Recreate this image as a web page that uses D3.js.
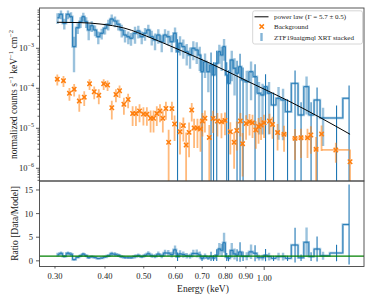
<!DOCTYPE html>
<html>
<head>
<meta charset="utf-8">
<script src="https://cdn.jsdelivr.net/npm/d3@7"></script>
<style>
  body { margin: 0; background: #fff; }
  svg { display: block; }
  text { font-family: "Liberation Serif", "Times New Roman", serif; fill: #222; }
</style>
</head>
<body>
<svg id="chart" width="374" height="299"></svg>
<script>
// stacked XRT spectrum (bin centre keV, counts s^-1 keV^-1 cm^-2, 1 sigma)
const specE = [0.3044, 0.3105, 0.3165, 0.3233, 0.3290, 0.3347, 0.3419, 0.3475, 0.3531, 0.3590,
  0.3642, 0.3706, 0.3777, 0.3849, 0.3925, 0.4001, 0.4077, 0.4158, 0.4238, 0.4319,
  0.4404, 0.4489, 0.4575, 0.4646, 0.4755, 0.4846, 0.4942, 0.5036, 0.5133, 0.5235,
  0.5335, 0.5437, 0.5545, 0.5651, 0.5759, 0.5873, 0.5986, 0.6073, 0.6161, 0.6279,
  0.6403, 0.6526, 0.6651, 0.6782, 0.6901, 0.6992, 0.7114, 0.7251, 0.7364, 0.7471,
  0.7610, 0.7725, 0.7832, 0.7937, 0.8061, 0.8145, 0.8297, 0.8431, 0.8553, 0.8702,
  0.8854, 0.9044, 0.9271, 0.9487, 0.9708, 0.9905, 1.0078, 1.0283, 1.0553, 1.0860,
  1.1146, 1.1438, 1.1943, 1.2363, 1.2761, 1.3096, 1.3556, 1.4032, 1.5165, 1.6298];
const specRate = [5.82e-3, 7.08e-3, 4.22e-3, 7.08e-3, 6.17e-3, 1.10e-3, 3.27e-3, 4.62e-3, 6.17e-3, 4.62e-3,
  2.87e-3, 3.67e-3, 2.87e-3, 1.95e-3, 2.37e-3, 3.16e-3, 3.98e-3, 5.40e-3, 4.81e-3, 3.98e-3,
  2.87e-3, 2.15e-3, 1.95e-3, 1.78e-3, 2.37e-3, 2.71e-3, 1.95e-3, 2.37e-3, 2.87e-3, 1.95e-3,
  1.61e-3, 2.15e-3, 1.46e-3, 2.15e-3, 1.95e-3, 1.46e-3, 2.37e-3, 8.22e-4, 1.33e-3, 1.10e-3,
  8.22e-4, 6.80e-4, 1.00e-3, 9.07e-4, 6.80e-4, 2.60e-4, 4.62e-4, 2.60e-4, 3.82e-4, 2.15e-4,
  4.22e-4, 8.22e-4, 6.80e-4, 1.10e-3, 2.15e-4, 1.33e-4, 5.10e-4, 3.16e-4, 2.37e-4, 3.47e-4,
  1.61e-4, 1.46e-4, 2.60e-4, 1.95e-4, 7.50e-5, 6.80e-5, 1.10e-4, 7.50e-5, 3.82e-5, 5.62e-5,
  5.10e-5, 2.60e-5, 1.33e-4, 2.15e-5, 1.10e-4, 2.15e-5, 5.10e-5, 1.81e-5, 1.81e-5, 5.62e-5];
const specErr = [1.75e-3, 1.77e-3, 1.27e-3, 1.77e-3, 1.85e-3, 8.5e-4, 9.8e-4, 1.39e-3, 1.54e-3, 1.39e-3,
  1.29e-3, 1.10e-3, 8.6e-4, 6.8e-4, 7.1e-4, 9.5e-4, 1.19e-3, 1.62e-3, 1.44e-3, 1.19e-3,
  1.0e-3, 7.5e-4, 6.8e-4, 6.2e-4, 1.07e-3, 9.5e-4, 6.8e-4, 8.3e-4, 1.0e-3, 7.8e-4,
  7.2e-4, 8.6e-4, 6.6e-4, 8.6e-4, 7.8e-4, 6.6e-4, 9.5e-4, 8.6e-4, 6.7e-4, 5.5e-4,
  4.5e-4, 3.7e-4, 5.0e-4, 5.0e-4, 4.1e-4, 2.9e-4, 2.8e-4, 1.8e-4, 4.0e-4, 2.3e-4,
  4.4e-4, 4.1e-4, 4.1e-4, 6.1e-4, 2.3e-4, 1.5e-4, 3.6e-4, 2.5e-4, 2.5e-4, 3.8e-4,
  1.7e-4, 1.3e-4, 2.1e-4, 2.05e-4, 6.8e-5, 6.1e-5, 1.16e-4, 6.8e-5, 4.0e-5, 5.1e-5,
  4.6e-5, 2.7e-5, 1.46e-4, 2.3e-5, 8.8e-5, 2.3e-5, 5.4e-5, 1.45e-5, 1.9e-5, 6.2e-5];

// background spectrum
const bgE = [0.304, 0.315, 0.326, 0.335, 0.345, 0.355, 0.366, 0.376, 0.386, 0.397,
  0.406, 0.416, 0.426, 0.435, 0.446, 0.457, 0.469, 0.478, 0.488, 0.499,
  0.509, 0.520, 0.529, 0.539, 0.549, 0.558, 0.568, 0.577, 0.588, 0.597,
  0.616, 0.628, 0.638, 0.649, 0.659, 0.668, 0.681, 0.693, 0.701, 0.711,
  0.729, 0.745, 0.764, 0.782, 0.798, 0.823, 0.841, 0.854, 0.872, 0.883,
  0.901, 0.919, 0.935, 0.953, 0.968, 0.982, 0.999, 1.031, 1.049, 1.080,
  1.121, 1.194, 1.236, 1.283, 1.308, 1.348, 1.391, 1.510, 1.639];
const bgRate = [1.69e-4, 1.55e-4, 7.5e-5, 9.5e-5, 4.8e-5, 6.0e-5, 1.30e-4, 8.2e-5, 6.7e-5, 1.30e-4,
  1.21e-4, 3.27e-5, 7.0e-5, 8.7e-5, 3.98e-5, 5.25e-5, 2.34e-5, 2.34e-5, 2.71e-5, 2.28e-5,
  2.25e-5, 1.78e-5, 1.78e-5, 2.34e-5, 2.71e-5, 1.78e-5, 3.13e-5, 4.47e-6, 3.1e-5, 1.28e-5,
  8.2e-6, 1.17e-5, 3.82e-6, 7.9e-6, 2.87e-5, 1.02e-5, 1.02e-5, 9.6e-6, 1.52e-5, 1.78e-5,
  5.9e-6, 1.76e-5, 1.52e-5, 1.46e-5, 1.57e-5, 8.2e-6, 4.47e-6, 8.8e-6, 1.52e-5, 4.12e-6,
  1.32e-5, 1.46e-5, 1.37e-5, 9.1e-6, 1.11e-5, 1.21e-5, 1.37e-5, 1.52e-5, 1.25e-5, 7.8e-6,
  7.1e-6, 5.6e-6, 5.8e-6, 5.8e-6, 6.8e-6, 2.99e-6, 7.2e-6, 2.87e-6, 1.46e-6];
const bgErr = [5.1e-5, 4.7e-5, 2.6e-5, 3.3e-5, 2.2e-5, 2.4e-5, 3.9e-5, 2.9e-5, 2.7e-5, 3.9e-5,
  3.6e-5, 1.6e-5, 2.5e-5, 3.0e-5, 1.8e-5, 2.1e-5, 1.2e-5, 1.2e-5, 1.3e-5, 1.1e-5,
  1.1e-5, 1.0e-5, 1.0e-5, 1.2e-5, 1.3e-5, 1.0e-5, 1.5e-5, 4.7e-6, 1.5e-5, 8e-6,
  6e-6, 7e-6, 4e-6, 6e-6, 1.4e-5, 7e-6, 7e-6, 7e-6, 9e-6, 1e-5,
  6.2e-6, 1e-5, 9e-6, 9e-6, 9e-6, 6e-6, 3.5e-6, 6e-6, 9e-6, 3.5e-6,
  8e-6, 8e-6, 8e-6, 6e-6, 7e-6, 7e-6, 8e-6, 8e-6, 7e-6, 5e-6,
  4.5e-6, 4e-6, 4e-6, 4e-6, 4.5e-6, 3.1e-6, 4.5e-6, 1.5e-6, 1.5e-6];
const bgDE = [0.003, 0.003, 0.003, 0.003, 0.003, 0.003, 0.003, 0.003, 0.003, 0.003,
  0.003, 0.003, 0.004, 0.004, 0.004, 0.004, 0.004, 0.004, 0.004, 0.004,
  0.004, 0.004, 0.004, 0.004, 0.004, 0.004, 0.004, 0.004, 0.004, 0.004,
  0.005, 0.005, 0.005, 0.005, 0.005, 0.005, 0.005, 0.005, 0.005, 0.005,
  0.006, 0.006, 0.006, 0.006, 0.006, 0.007, 0.007, 0.007, 0.007, 0.007,
  0.007, 0.007, 0.007, 0.008, 0.008, 0.008, 0.008, 0.01, 0.01, 0.012,
  0.02, 0.02, 0.02, 0.02, 0.01, 0.02, 0.015, 0.118, 0.005];

// fitted absorbed power law
const modelE = [0.3035, 0.3464, 0.3887, 0.4489, 0.5183, 0.5986, 0.7322, 0.9218, 1.1604, 1.3791, 1.6392];
const modelRate = [4.47e-3, 4.39e-3, 4.05e-3, 3.16e-3, 1.86e-3, 1.017e-3, 4.22e-4, 1.40e-4, 4.62e-5, 1.86e-5, 7.08e-6];

const topTicks = [1e-3, 1e-4, 1e-5, 1e-6];
const topTickExp = ["\u22123", "\u22124", "\u22125", "\u22126"];
const ratioTicks = [0, 5, 10, 15];
const xMinorTicks = [0.3, 0.4, 0.5, 0.6, 0.7, 0.8, 0.9];
const xMajorTicks = [1.0];
const legendLabels = ["power law (\u0393 = 5.7 \u00b1 0.5)", "Background", "ZTF19aaigmql XRT stacked"];

const blue = "#1f77b4", orange = "#ff7f0e";
const L = 39.5, R = 364, T = 8, M = 181, B = 266.5;

const svg = d3.select("#chart");

const x = d3.scaleLog().domain([0.2744, 1.776]).range([L, R]);
const y = d3.scaleLog().domain([4.81e-7, 1.017e-2]).range([M, T]);
const yr = d3.scaleLinear().domain([-1.2, 16.9]).range([B, M]);

// model interpolated in log-log for the ratio panel
function modelAt(E) {
  let i = d3.bisectRight(modelE, E) - 1;
  i = Math.max(0, Math.min(modelE.length - 2, i));
  const t = Math.log(E / modelE[i]) / Math.log(modelE[i + 1] / modelE[i]);
  return Math.exp(Math.log(modelRate[i]) + t * Math.log(modelRate[i + 1] / modelRate[i]));
}

const spec = specE.map((e, i) => ({
  e: e, v: specRate[i], err: specErr[i],
  r: specRate[i] / modelAt(e), rerr: specErr[i] / modelAt(e),
  open: specRate[i] - specErr[i] <= 0
}));
const bg = bgE.map((e, i) => ({ e: e, v: bgRate[i], err: bgErr[i], de: bgDE[i] }));

const defs = svg.append("defs");
defs.append("clipPath").attr("id", "clipTop").append("rect")
  .attr("x", L).attr("y", T).attr("width", R - L).attr("height", M - T);
defs.append("clipPath").attr("id", "clipBot").append("rect")
  .attr("x", L).attr("y", M).attr("width", R - L).attr("height", B - M);

// ---------- top panel ----------
const topG = svg.append("g").attr("clip-path", "url(#clipTop)");
const lowY = v => v > 0 ? y(v) : M + 5;

topG.selectAll(".sbar").data(spec.filter(d => !d.open)).enter().append("line")
  .attr("x1", d => x(d.e)).attr("x2", d => x(d.e))
  .attr("y1", d => y(d.v + d.err)).attr("y2", d => lowY(d.v - d.err))
  .attr("stroke", blue).attr("stroke-opacity", 0.45).attr("stroke-width", 2.4);

const stepTop = d3.line().x(d => x(d.e)).y(d => y(d.v)).curve(d3.curveStep);
topG.append("path").datum(spec).attr("d", stepTop)
  .attr("fill", "none").attr("stroke", blue).attr("stroke-opacity", 0.4).attr("stroke-width", 2.4);
topG.append("path").datum(spec).attr("d", stepTop)
  .attr("fill", "none").attr("stroke", blue).attr("stroke-width", 0.9);

topG.selectAll(".sopen").data(spec.filter(d => d.open)).enter().append("line")
  .attr("x1", d => x(d.e)).attr("x2", d => x(d.e))
  .attr("y1", d => y(d.v + d.err)).attr("y2", M + 5)
  .attr("stroke", blue).attr("stroke-width", 1.1);

// background points
topG.selectAll(".bv").data(bg).enter().append("line")
  .attr("x1", d => x(d.e)).attr("x2", d => x(d.e))
  .attr("y1", d => y(d.v + d.err)).attr("y2", d => lowY(d.v - d.err))
  .attr("stroke", orange).attr("stroke-opacity", 0.55).attr("stroke-width", 1.8);
topG.selectAll(".bh").data(bg).enter().append("line")
  .attr("x1", d => x(d.e - d.de)).attr("x2", d => x(d.e + d.de))
  .attr("y1", d => y(d.v)).attr("y2", d => y(d.v))
  .attr("stroke", orange).attr("stroke-opacity", 0.55).attr("stroke-width", 1.8);
topG.selectAll(".bm").data(bg).enter().append("path")
  .attr("d", d => {
    const cx = x(d.e), cy = y(d.v), s = 2.2;
    return `M${cx - s},${cy - s}L${cx + s},${cy + s}M${cx - s},${cy + s}L${cx + s},${cy - s}`;
  })
  .attr("stroke", orange).attr("stroke-width", 1.5).attr("fill", "none");

// model
topG.append("path").datum(modelE.map((e, i) => [e, modelRate[i]]))
  .attr("d", d3.line().x(d => x(d[0])).y(d => y(d[1])).curve(d3.curveMonotoneX))
  .attr("fill", "none").attr("stroke", "#000").attr("stroke-width", 1);

// ---------- ratio panel ----------
const botG = svg.append("g").attr("clip-path", "url(#clipBot)");
botG.selectAll(".rbar").data(spec.filter(d => !d.open)).enter().append("line")
  .attr("x1", d => x(d.e)).attr("x2", d => x(d.e))
  .attr("y1", d => yr(d.r + d.rerr)).attr("y2", d => yr(d.r - d.rerr))
  .attr("stroke", blue).attr("stroke-opacity", 0.45).attr("stroke-width", 2.4);
const stepBot = d3.line().x(d => x(d.e)).y(d => yr(d.r)).curve(d3.curveStep);
botG.append("path").datum(spec).attr("d", stepBot)
  .attr("fill", "none").attr("stroke", blue).attr("stroke-opacity", 0.4).attr("stroke-width", 2.4);
botG.append("path").datum(spec).attr("d", stepBot)
  .attr("fill", "none").attr("stroke", blue).attr("stroke-width", 0.9);
botG.selectAll(".ropen").data(spec.filter(d => d.open)).enter().append("line")
  .attr("x1", d => x(d.e)).attr("x2", d => x(d.e))
  .attr("y1", d => yr(d.r + d.rerr)).attr("y2", d => yr(d.r - d.rerr))
  .attr("stroke", blue).attr("stroke-width", 1.1);
botG.append("line")
  .attr("x1", L).attr("x2", R).attr("y1", yr(1)).attr("y2", yr(1))
  .attr("stroke", "green").attr("stroke-width", 1.3);

// ---------- frames ----------
[[T, M], [M, B]].forEach(([a, b]) => {
  svg.append("rect").attr("x", L).attr("y", a).attr("width", R - L).attr("height", b - a)
    .attr("fill", "none").attr("stroke", "#444").attr("stroke-width", 0.9);
});

// ---------- axes ----------
const ax = svg.append("g").attr("stroke", "#333").attr("stroke-width", 0.8);

// top y minor ticks
const minors = [];
for (let k = -7; k <= -2; k++) for (let m = 2; m <= 9; m++) {
  const v = m * Math.pow(10, k);
  if (v > y.domain()[0] && v < y.domain()[1]) minors.push(v);
}
ax.selectAll(".ym").data(minors).enter().append("line")
  .attr("x1", L - 2).attr("x2", L).attr("y1", d => y(d)).attr("y2", d => y(d));
ax.selectAll(".yM").data(topTicks).enter().append("line")
  .attr("x1", L - 3.5).attr("x2", L).attr("y1", d => y(d)).attr("y2", d => y(d));

const yLab = svg.selectAll(".ylab").data(topTicks).enter().append("text")
  .attr("x", 34).attr("y", d => y(d) + 3).attr("text-anchor", "end").style("font-size", "8.5px");
yLab.append("tspan").text("10");
yLab.append("tspan").attr("dy", -3.8).style("font-size", "6px").text((d, i) => topTickExp[i]);

// ratio y ticks
ax.selectAll(".rt").data(ratioTicks).enter().append("line")
  .attr("x1", L - 3.5).attr("x2", L).attr("y1", d => yr(d)).attr("y2", d => yr(d));
svg.selectAll(".rlab").data(ratioTicks).enter().append("text")
  .attr("x", 33).attr("y", d => yr(d) + 3).attr("text-anchor", "end").style("font-size", "8.5px")
  .text(d => d);

// x ticks
ax.selectAll(".xm").data(xMinorTicks).enter().append("line")
  .attr("x1", d => x(d)).attr("x2", d => x(d)).attr("y1", B).attr("y2", B + 2);
ax.selectAll(".xM").data(xMajorTicks).enter().append("line")
  .attr("x1", d => x(d)).attr("x2", d => x(d)).attr("y1", B).attr("y2", B + 3.5);
svg.selectAll(".xlab").data(xMinorTicks).enter().append("text")
  .attr("x", d => x(d)).attr("y", B + 12.5).attr("text-anchor", "middle").style("font-size", "8.5px")
  .text(d => d3.format(".2f")(d));
svg.selectAll(".xlabM").data(xMajorTicks).enter().append("text")
  .attr("x", d => x(d)).attr("y", B + 14).attr("text-anchor", "middle").style("font-size", "8.5px")
  .text(d => d3.format(".2f")(d));

// axis titles
const yt = svg.append("text").attr("transform", "translate(16.5,94.5) rotate(-90)")
  .attr("text-anchor", "middle").style("font-size", "9.5px");
yt.append("tspan").text("normalized counts s");
yt.append("tspan").attr("dy", -3.6).style("font-size", "6.6px").text("\u22121");
yt.append("tspan").attr("dy", 3.6).text(" keV");
yt.append("tspan").attr("dy", -3.6).style("font-size", "6.6px").text("\u22121");
yt.append("tspan").attr("dy", 3.6).text(" cm");
yt.append("tspan").attr("dy", -3.6).style("font-size", "6.6px").text("\u22122");

svg.append("text").attr("transform", "translate(18,223.5) rotate(-90)")
  .attr("text-anchor", "middle").style("font-size", "9.5px").text("Ratio [Data/Model]");
svg.append("text").attr("x", 203).attr("y", 292).attr("text-anchor", "middle")
  .style("font-size", "9.5px").text("Energy (keV)");

// ---------- legend ----------
const lg = svg.append("g");
lg.append("rect").attr("x", 252.7).attr("y", 10.8).attr("width", 109.8).attr("height", 33.2)
  .attr("rx", 2).attr("fill", "#fff").attr("fill-opacity", 0.85)
  .attr("stroke", "#ccc").attr("stroke-width", 0.8);
lg.append("line").attr("x1", 254.5).attr("x2", 268.5).attr("y1", 16.8).attr("y2", 16.8)
  .attr("stroke", "#000").attr("stroke-width", 1);
lg.append("path").attr("d", "M259.5,24.4L263.9,28.8M259.5,28.8L263.9,24.4")
  .attr("stroke", orange).attr("stroke-width", 1.5);
lg.append("line").attr("x1", 261.5).attr("x2", 261.5).attr("y1", 33).attr("y2", 41)
  .attr("stroke", blue).attr("stroke-opacity", 0.55).attr("stroke-width", 2.4);
lg.selectAll(".lt").data(legendLabels).enter().append("text")
  .attr("x", 274).attr("y", (d, i) => [19.2, 29, 39.8][i])
  .style("font-size", "7px").text(d => d);
</script>
</body>
</html>
